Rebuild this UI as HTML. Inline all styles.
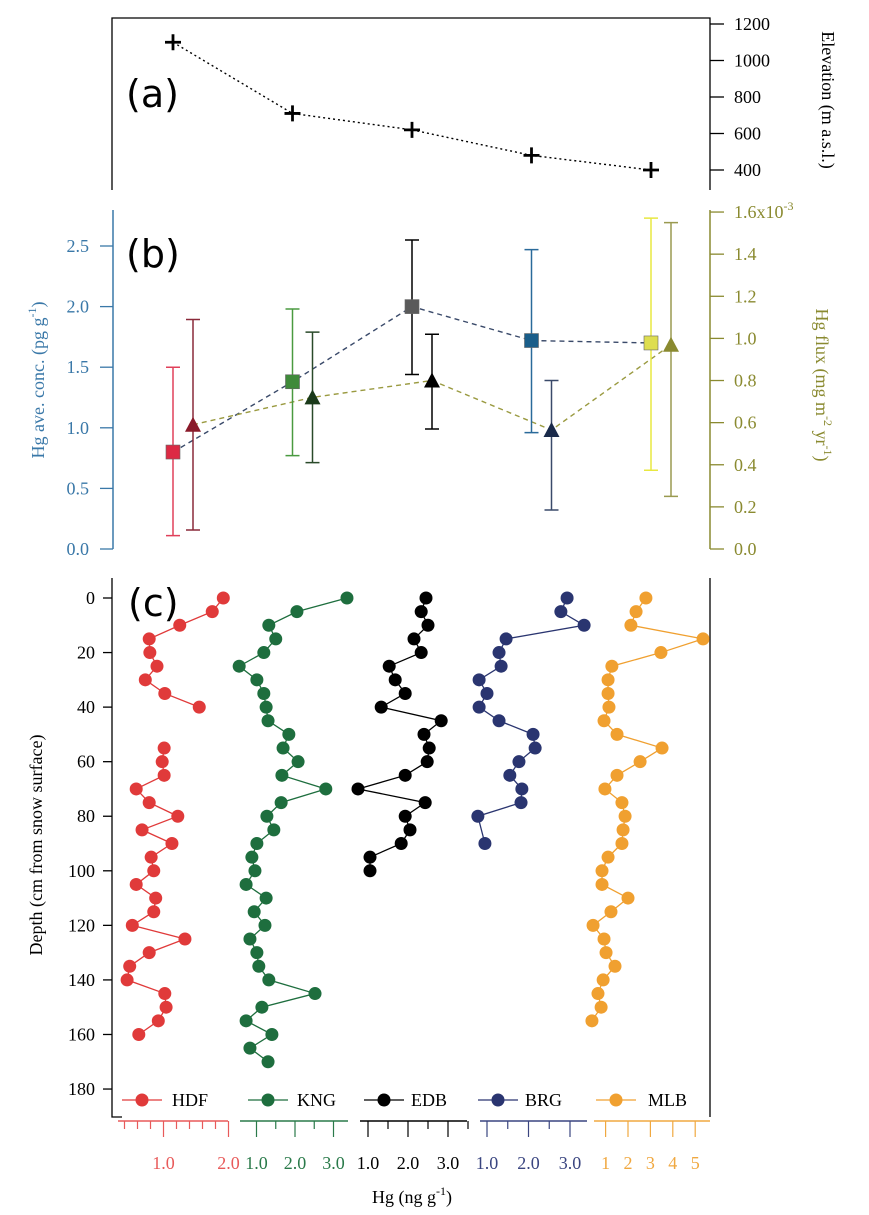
<!DOCTYPE html>
<html><head><meta charset="utf-8"><style>
body{margin:0;background:#fff}
svg{display:block;font-family:"Liberation Serif",serif}
</style></head><body>
<svg id="c" width="869" height="1215" viewBox="0 0 869 1215" xmlns="http://www.w3.org/2000/svg"></svg>
<script>
// ---- Panel (a) data ----
const siteX = [1,2,3,4,5];
const elevation = [1100,710,620,480,400];
const elevTicks = [400,600,800,1000,1200];
// ---- Panel (b) data ----
const concMean = [0.80,1.38,2.00,1.72,1.70];
const concLow = [0.11,0.77,1.44,0.96,0.65];
const concHigh = [1.50,1.98,2.55,2.47,2.73];
const fluxMean = [0.59,0.72,0.80,0.565,0.97];
const fluxLow = [0.09,0.41,0.57,0.185,0.25];
const fluxHigh = [1.09,1.03,1.02,0.80,1.55];
const concTicks = [0,0.5,1,1.5,2,2.5];
const fluxTicks = [0,0.2,0.4,0.6,0.8,1.0,1.2,1.4,1.6];
// ---- Panel (c) data ----
const depthTicks = [0,20,40,60,80,100,120,140,160,180];
const hdfDepth = [0,5,10,15,20,25,30,35,40,null,55,60,65,70,75,80,85,90,95,100,105,110,115,120,125,130,135,140,145,150,155,160];
const hdfHg = [1.92,1.75,1.25,0.78,0.79,0.90,0.72,1.02,1.55,null,1.01,0.98,1.01,0.58,0.78,1.22,0.67,1.13,0.81,0.85,0.58,0.88,0.85,0.52,1.33,0.78,0.48,0.44,1.02,1.04,0.92,0.62];
const kngDepth = [0,5,10,15,20,25,30,35,40,45,50,55,60,65,70,75,80,85,90,95,100,105,110,115,120,125,130,135,140,145,150,155,160,165,170];
const kngHg = [3.35,2.05,1.32,1.5,1.19,0.55,1.01,1.19,1.25,1.3,1.84,1.69,2.08,1.66,2.8,1.64,1.27,1.45,1.01,0.88,0.96,0.73,1.25,0.94,1.22,0.83,1.01,1.06,1.32,2.52,1.14,0.73,1.40,0.83,1.30];
const edbDepth = [0,5,10,15,20,25,30,35,40,45,50,55,60,65,70,75,80,85,90,95,100];
const edbHg = [2.45,2.33,2.5,2.15,2.33,1.53,1.68,1.93,1.33,2.83,2.4,2.53,2.48,1.93,0.75,2.43,1.93,2.05,1.83,1.05,1.05];
const brgDepth = [0,5,10,15,20,25,30,35,40,45,50,55,60,65,70,75,80,90];
const brgHg = [2.93,2.78,3.34,1.46,1.29,1.34,0.81,1.0,0.81,1.29,2.11,2.16,1.77,1.55,1.84,1.82,0.78,0.95];
const mlbDepth = [0,5,10,15,20,25,30,35,40,45,50,55,60,65,70,75,80,85,90,95,100,105,110,115,120,125,130,135,140,145,150,155];
const mlbHg = [2.80,2.36,2.13,5.35,3.47,1.28,1.11,1.11,1.15,0.93,1.51,3.52,2.54,1.51,0.97,1.73,1.87,1.78,1.73,1.11,0.84,0.84,2.0,1.24,0.44,0.93,1.02,1.42,0.89,0.66,0.80,0.39];

const svg=document.getElementById('c');const NS='http://www.w3.org/2000/svg';
function mk(tag,a,parent){const e=document.createElementNS(NS,tag);for(const k in a)e.setAttribute(k,a[k]);(parent||svg).appendChild(e);return e;}
function txt(s,a,parent){const e=mk('text',a,parent);e.textContent=s;return e;}

const sx=i=>173+(i-1)*119.5;
const yElev=v=>24+(1200-v)/200*36.5;
const yConc=v=>549-v*121.2;
const yFlux=v=>549-v*210.6;
const yDepth=d=>598+d*2.728;

// ===== Panel (a) =====
let g=mk('g',{});
mk('path',{d:'M112 190 V18 H710 V190',fill:'none',stroke:'#000','stroke-width':1.3},g);
elevTicks.forEach(t=>{const y=yElev(t);mk('line',{x1:710,x2:724,y1:y,y2:y,stroke:'#000','stroke-width':1.3},g);
 const l=txt(String(t),{x:734,y:y+6,'font-size':18,fill:'#000'},g);});
let et=txt('Elevation (m a.s.l.)',{x:0,y:0,'font-size':18,'text-anchor':'middle',transform:'translate(822,100) rotate(90)'},g);

mk('polyline',{points:siteX.map((s,i)=>sx(s)+','+yElev(elevation[i])).join(' '),fill:'none',stroke:'#000','stroke-width':1.4,'stroke-dasharray':'2,3'},g);
siteX.forEach((s,i)=>{const x=sx(s),y=yElev(elevation[i]);const p=mk('path',{d:`M${x-8} ${y}H${x+8}M${x} ${y-8}V${y+8}`,stroke:'#000','stroke-width':2.8},g);
 });
let la=txt('(a)',{x:126,y:107,'font-size':38,'font-family':'DejaVu Sans, sans-serif'},g);

// ===== Panel (b) =====
g=mk('g',{});
const blue='#3a78a8',olive='#8a8a30';
mk('path',{d:'M113 210 V549',fill:'none',stroke:blue,'stroke-width':1.5},g);
concTicks.forEach(t=>{const y=yConc(t);mk('line',{x1:100,x2:113,y1:y,y2:y,stroke:blue,'stroke-width':1.3},g);
 const l=txt(t.toFixed(1),{x:89,y:y+6,'font-size':18,fill:blue,'text-anchor':'end'},g);});
let lt=txt('',{x:0,y:0,'font-size':18,fill:blue,'text-anchor':'middle',transform:'translate(44,380) rotate(-90)'},g);
lt.innerHTML='Hg ave. conc. (pg g<tspan dy="-8" font-size="12">-1</tspan><tspan dy="8">)</tspan>';

mk('path',{d:'M710 210 V549',fill:'none',stroke:olive,'stroke-width':1.5},g);
fluxTicks.forEach((t,i)=>{const y=yFlux(t);mk('line',{x1:710,x2:724,y1:y,y2:y,stroke:olive,'stroke-width':1.3},g);
 const l=txt(t.toFixed(1),{x:734,y:y+6,'font-size':18,fill:olive},g);
 if(i===fluxTicks.length-1)l.innerHTML='1.6x10<tspan dy="-8" font-size="12">-3</tspan>';
 });
let rt=txt('',{x:0,y:0,'font-size':18,fill:olive,'text-anchor':'middle',transform:'translate(816,385) rotate(90)'},g);
rt.innerHTML='Hg flux (mg m<tspan dy="-8" font-size="12">-2</tspan><tspan dy="8"> yr</tspan><tspan dy="-8" font-size="12">-1</tspan><tspan dy="8">)</tspan>';

const sqFill=['#dc2a44','#3f8a3a','#5a5a5a','#1a5e8a','#dede50'];
const sqBar=['#e0405a','#4a9a40','#000','#2a6a9a','#e8e840'];
const trFill=['#8a1a2a','#1a3a1a','#000','#1a2a4a','#8a8a30'];
const trBar=['#8a2a3a','#2a4a2a','#000','#3a4a6a','#9a9a50'];
mk('polyline',{points:siteX.map((s,i)=>sx(s)+','+yConc(concMean[i])).join(' '),fill:'none',stroke:'#3a4a6a','stroke-width':1.4,'stroke-dasharray':'5,4'},g);
mk('polyline',{points:siteX.map((s,i)=>(sx(s)+20)+','+yFlux(fluxMean[i])).join(' '),fill:'none',stroke:'#9a9a40','stroke-width':1.4,'stroke-dasharray':'5,4'},g);
siteX.forEach((s,i)=>{
 let x=sx(s),y1=yConc(concLow[i]),y2=yConc(concHigh[i]);
 const eb=mk('path',{d:`M${x} ${y1}V${y2}M${x-7} ${y1}H${x+7}M${x-7} ${y2}H${x+7}`,stroke:sqBar[i],'stroke-width':1.5},g);
 
 const y=yConc(concMean[i]);const r=mk('rect',{x:x-7,y:y-7,width:14,height:14,fill:sqFill[i],stroke:'#666','stroke-width':0.6},g);
 
 x=sx(s)+20;y1=yFlux(fluxLow[i]);y2=yFlux(fluxHigh[i]);
 const eb2=mk('path',{d:`M${x} ${y1}V${y2}M${x-7} ${y1}H${x+7}M${x-7} ${y2}H${x+7}`,stroke:trBar[i],'stroke-width':1.5},g);
 
 const yf=yFlux(fluxMean[i]);const t=mk('path',{d:`M${x-8} ${yf+7}L${x} ${yf-8}L${x+8} ${yf+7}Z`,fill:trFill[i]},g);
 
});
let lb=txt('(b)',{x:126,y:267,'font-size':38,'font-family':'DejaVu Sans, sans-serif'},g);

// ===== Panel (c) =====
g=mk('g',{});
mk('path',{d:'M112 578 V1117 H122',fill:'none',stroke:'#000','stroke-width':1.3},g);
mk('line',{x1:710,x2:710,y1:578,y2:1117,stroke:'#000','stroke-width':1.3},g);
depthTicks.forEach(t=>{const y=yDepth(t);mk('line',{x1:103,x2:112,y1:y,y2:y,stroke:'#000','stroke-width':1.3},g);
 const l=txt(String(t),{x:95,y:y+6,'font-size':18,'text-anchor':'end'},g);});
let dt=txt('Depth (cm from snow surface)',{x:0,y:0,'font-size':18,'text-anchor':'middle',transform:'translate(42,845) rotate(-90)'},g);

const series=[
 {n:'HDF',d:hdfDepth,v:hdfHg,c:'#e03a3a',ac:'#e85a5a',x0:98.5,k:65,ax:[118,228],maj:[1,2],min:[0.4,0.6,0.8,1.2,1.4,1.6,1.8],lab:['1.0','2.0'],lx:122,tx:172},
 {n:'KNG',d:kngDepth,v:kngHg,c:'#1e6e3e',ac:'#2a7a4a',x0:218,k:38.5,ax:[240,348],maj:[1,2,3],min:[1.5,2.5],lab:['1.0','2.0','3.0'],lx:248,tx:297},
 {n:'EDB',d:edbDepth,v:edbHg,c:'#000',ac:'#000',x0:328,k:40,ax:[360,467],maj:[1,2,3],min:[1.5,2.5,3.5],lab:['1.0','2.0','3.0'],lx:364,tx:411},
 {n:'BRG',d:brgDepth,v:brgHg,c:'#2a3570',ac:'#3a4580',x0:445.5,k:41.5,ax:[480,587],maj:[1,2,3],min:[1.5,2.5],lab:['1.0','2.0','3.0'],lx:478,tx:525},
 {n:'MLB',d:mlbDepth,v:mlbHg,c:'#f0a030',ac:'#f0a840',x0:583.2,k:22.4,ax:[594,710],maj:[1,2,3,4,5],min:[],lab:['1','2','3','4','5'],lx:596,tx:648}];
series.forEach(s=>{
 const sg=mk('g',{},g);
 const X=v=>s.x0+v*s.k;
 let path='',pen=false;
 s.d.forEach((d,i)=>{if(d===null||s.v[i]===null){pen=false;return;}path+=(pen?'L':'M')+X(s.v[i])+' '+yDepth(d);pen=true;});
 mk('path',{d:path,fill:'none',stroke:s.c,'stroke-width':1.3},sg);
 s.d.forEach((d,i)=>{if(d===null||s.v[i]===null)return;const c=mk('circle',{cx:X(s.v[i]),cy:yDepth(d),r:6.5,fill:s.c},sg);
  });
 const lg=mk('g',{},g);
 mk('line',{x1:s.lx,x2:s.lx+40,y1:1100,y2:1100,stroke:s.c,'stroke-width':1.3},lg);
 mk('circle',{cx:s.lx+20,cy:1100,r:6.5,fill:s.c},lg);
 txt(s.n,{x:s.tx,y:1106,'font-size':18},lg);
 const ag=mk('g',{},g);
 mk('line',{x1:s.ax[0],x2:s.ax[1],y1:1121,y2:1121,stroke:s.ac,'stroke-width':1.5},ag);
 s.maj.forEach((m,i)=>{const x=X(m);mk('line',{x1:x,x2:x,y1:1121,y2:1137,stroke:s.ac,'stroke-width':1.2},ag);
  txt(s.lab[i],{x:x,y:1169,'font-size':18,fill:s.ac,'text-anchor':'middle'},ag);});
 s.min.forEach(m=>{const x=X(m);mk('line',{x1:x,x2:x,y1:1121,y2:1129,stroke:s.ac,'stroke-width':1.2},ag);});
});
let xt=txt('',{x:412,y:1203,'font-size':18,'text-anchor':'middle'},g);
xt.innerHTML='Hg (ng g<tspan dy="-8" font-size="12">-1</tspan><tspan dy="8">)</tspan>';

let lc=txt('(c)',{x:128,y:616,'font-size':38,'font-family':'DejaVu Sans, sans-serif'},g);
</script>
</body></html>
